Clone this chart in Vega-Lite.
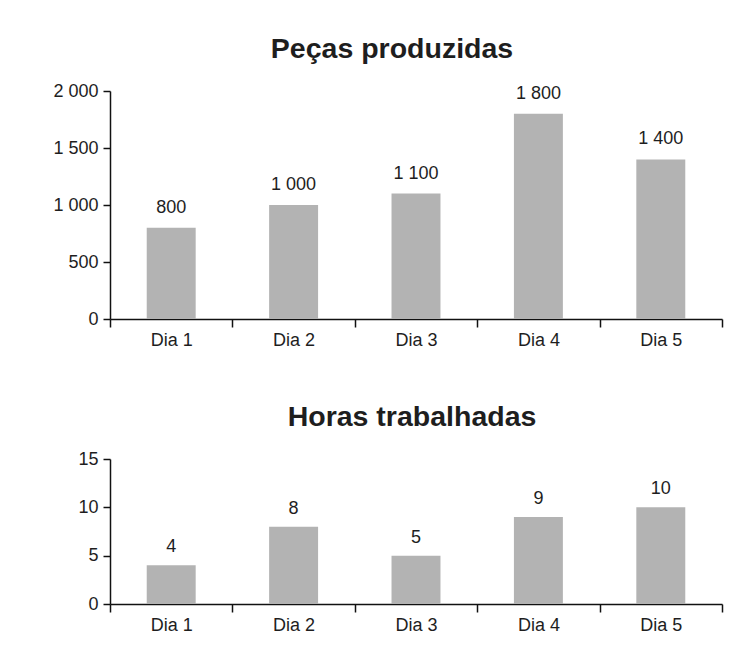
{
  "$schema": "https://vega.github.io/schema/vega-lite/v6.json",
  "padding": {"left": 52, "top": 34, "right": 10, "bottom": 10},
  "data": {
    "values": [
      {"dia": "Dia 1", "pecas": 800, "horas": 4},
      {"dia": "Dia 2", "pecas": 1000, "horas": 8},
      {"dia": "Dia 3", "pecas": 1100, "horas": 5},
      {"dia": "Dia 4", "pecas": 1800, "horas": 9},
      {"dia": "Dia 5", "pecas": 1400, "horas": 10}
    ]
  },
  "spacing": 53,
  "vconcat": [
    {
      "title": {"text": "Peças produzidas", "dx": -24, "offset": 19},
      "width": 612,
      "height": 228,
      "encoding": {
        "x": {
          "field": "dia",
          "type": "nominal",
          "scale": {"paddingInner": 0, "paddingOuter": 0}
        },
        "y": {
          "field": "pecas",
          "type": "quantitative",
          "scale": {"domain": [0, 2000]},
          "axis": {"values": [0, 500, 1000, 1500, 2000], "format": ",.0f"}
        }
      },
      "layer": [
        {"mark": {"type": "bar", "color": "#b3b3b3", "width": {"band": 0.4}}},
        {
          "mark": {"type": "text", "baseline": "alphabetic", "dy": -15, "fontSize": 18, "color": "#1e1e1e"},
          "encoding": {"text": {"field": "pecas", "type": "quantitative", "format": ",.0f"}}
        }
      ]
    },
    {
      "title": {"text": "Horas trabalhadas", "dx": -4, "offset": 19},
      "width": 612,
      "height": 145,
      "encoding": {
        "x": {
          "field": "dia",
          "type": "nominal",
          "scale": {"paddingInner": 0, "paddingOuter": 0}
        },
        "y": {
          "field": "horas",
          "type": "quantitative",
          "scale": {"domain": [0, 15]},
          "axis": {"values": [0, 5, 10, 15], "format": ",.0f"}
        }
      },
      "layer": [
        {"mark": {"type": "bar", "color": "#b3b3b3", "width": {"band": 0.4}}},
        {
          "mark": {"type": "text", "baseline": "alphabetic", "dy": -13, "fontSize": 18, "color": "#1e1e1e"},
          "encoding": {"text": {"field": "horas", "type": "quantitative", "format": ",.0f"}}
        }
      ]
    }
  ],
  "config": {
    "locale": {"number": {"decimal": ",", "thousands": " ", "grouping": [3], "currency": ["", ""]}},
    "font": "Liberation Sans",
    "view": {"stroke": null},
    "axis": {
      "title": null,
      "grid": false,
      "domainColor": "#111",
      "domainWidth": 1.5,
      "tickColor": "#111",
      "tickWidth": 1.5,
      "labelFont": "Liberation Sans",
      "labelFontSize": 18,
      "labelColor": "#1e1e1e"
    },
    "axisX": {"tickBand": "extent", "tickSize": 8, "labelAngle": 0, "labelPadding": 4},
    "axisY": {"tickSize": 7, "labelPadding": 5},
    "title": {"font": "Liberation Sans", "fontSize": 28.5, "fontWeight": "bold", "color": "#1e1e1e", "anchor": "middle"}
  }
}
